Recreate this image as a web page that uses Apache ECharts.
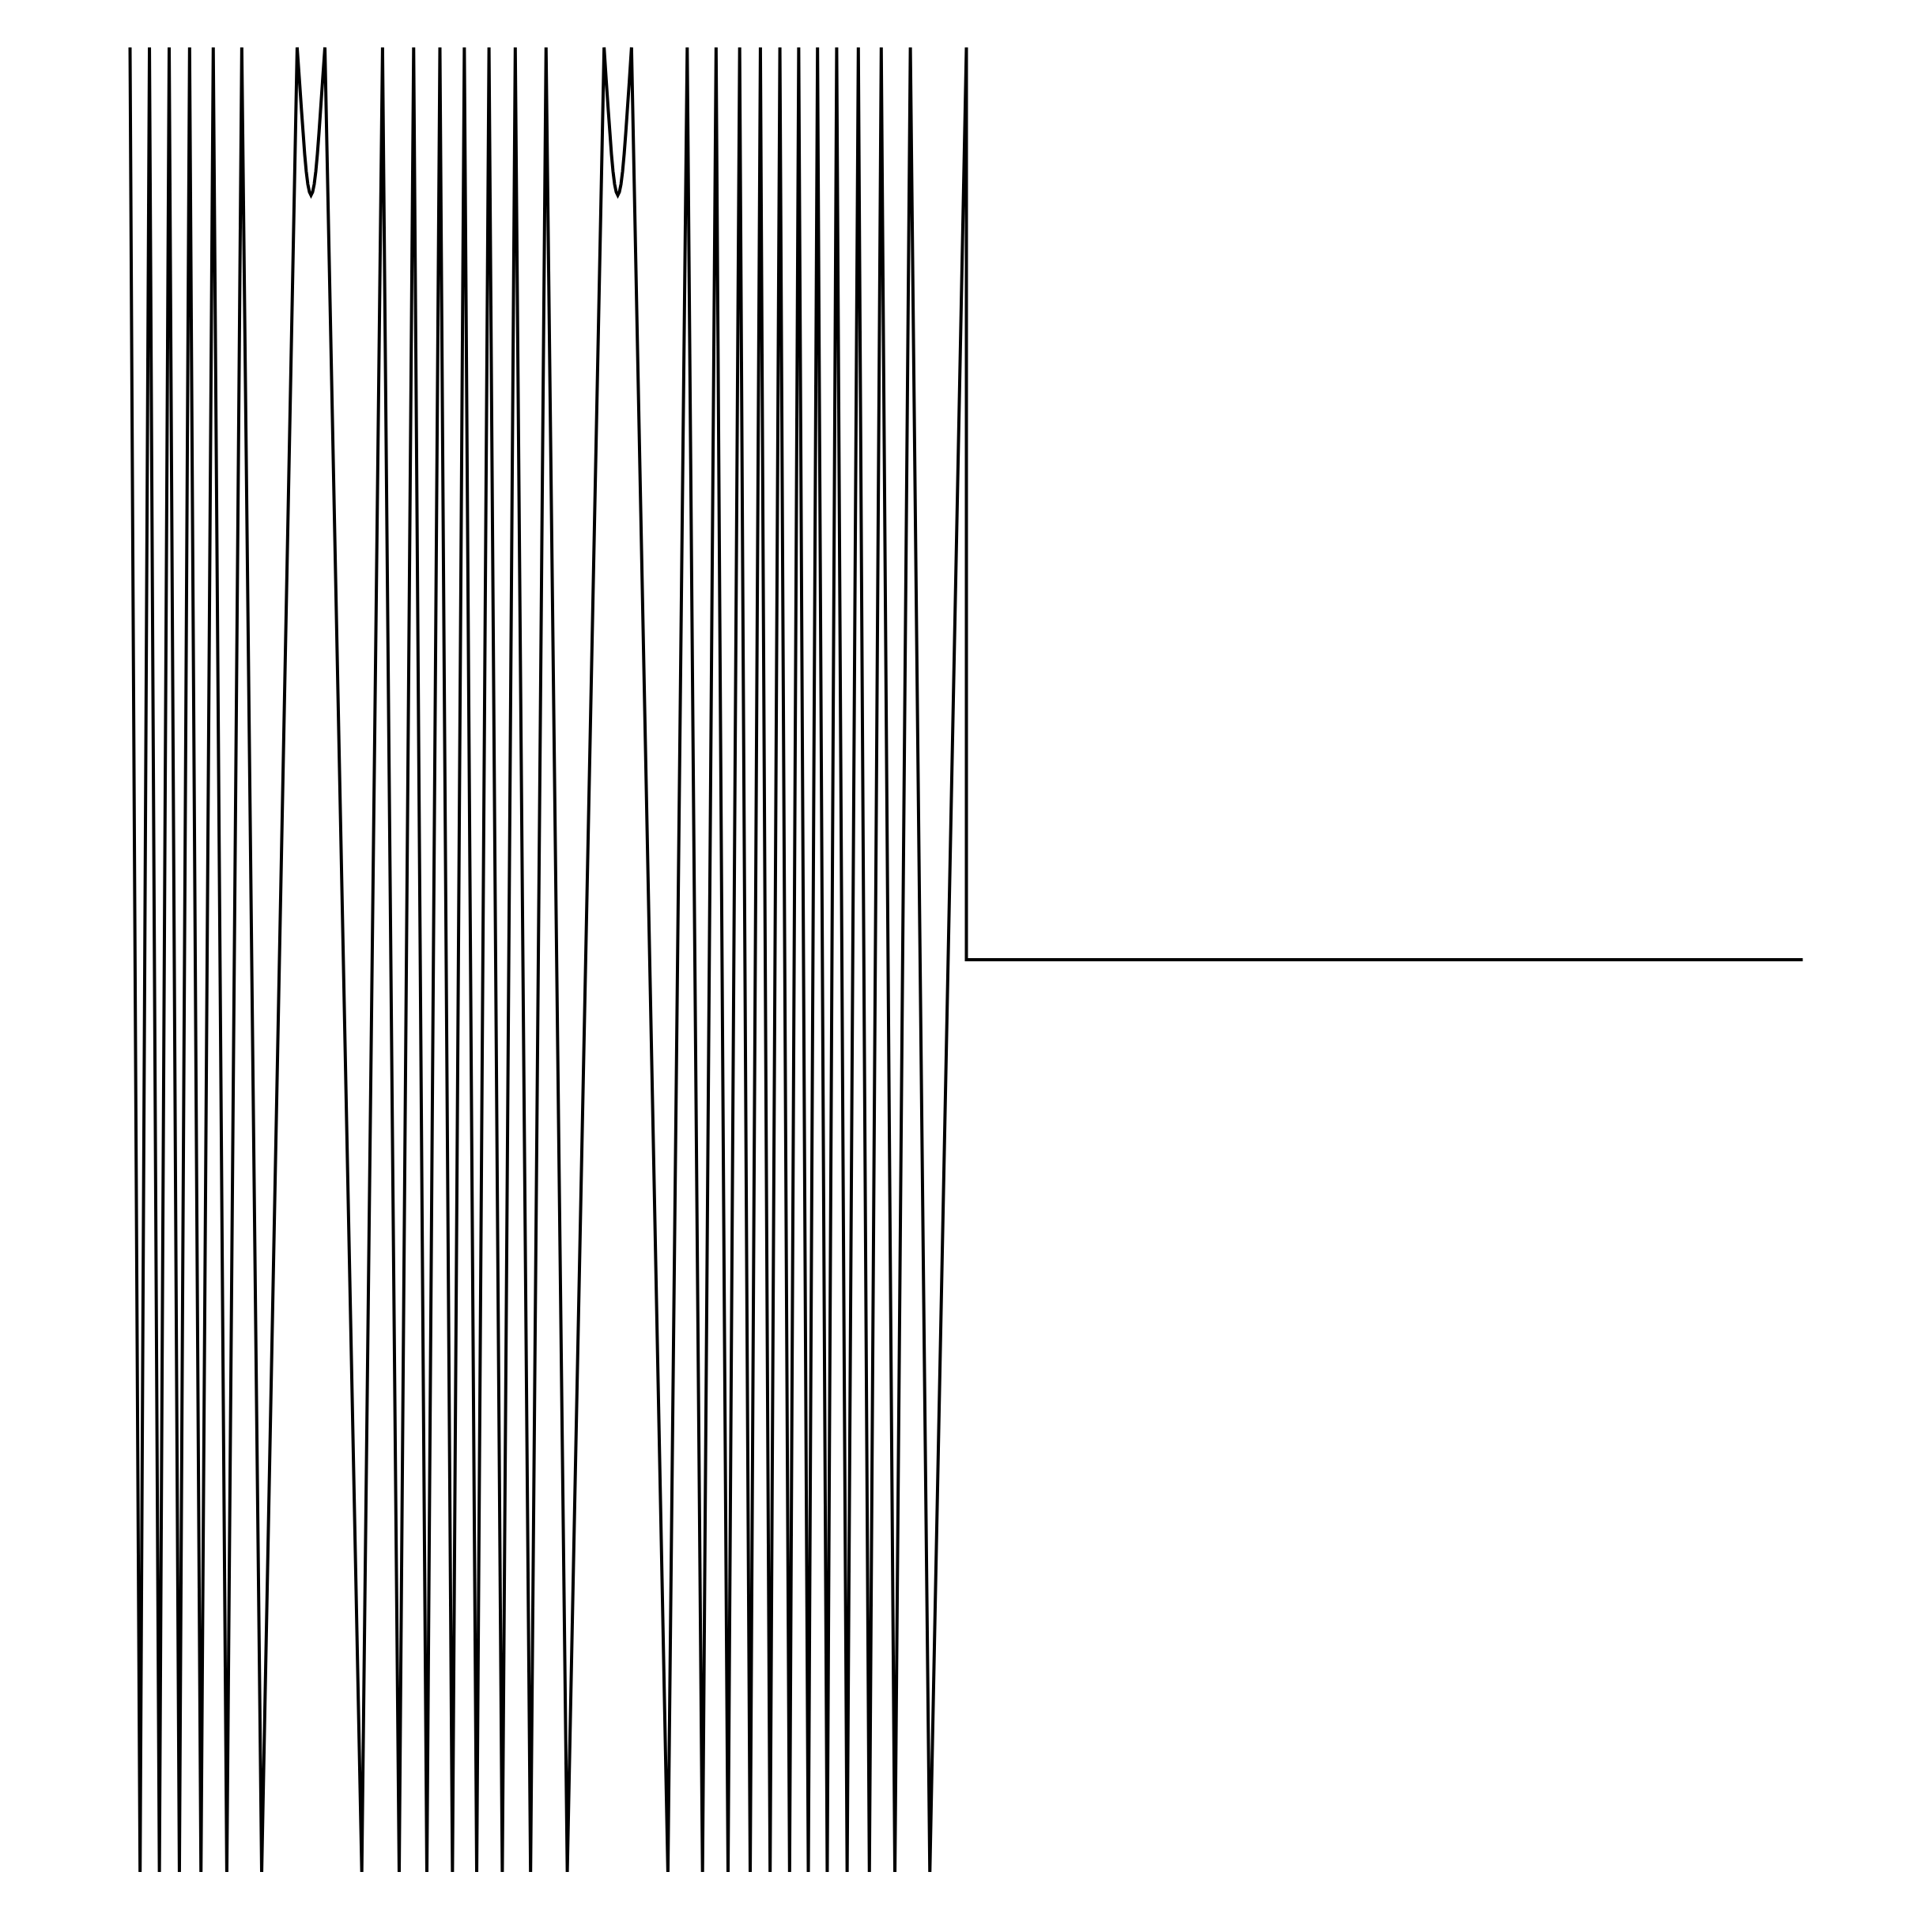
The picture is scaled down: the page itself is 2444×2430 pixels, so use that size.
<!DOCTYPE html>
<html>
<head>
<meta charset="utf-8">
<script src="https://cdn.jsdelivr.net/npm/echarts@6/dist/echarts.min.js"></script>
<style>
  html, body { margin: 0; padding: 0; background: #ffffff; }
  #chart { width: 2444px; height: 2430px; }
</style>
</head>
<body>
<div id="chart"></div>
<script>
// x positions of the line's vertices
const xValues = [
  0, 0.012, 0.0232, 0.0351, 0.0468, 0.059, 0.0712, 0.0848, 0.0995, 0.1157, 0.1336, 0.1574,
  0.1998, 0.2027, 0.2051, 0.2070, 0.2088, 0.2107, 0.2126, 0.2145, 0.2164, 0.2183, 0.2202, 0.2221, 0.2240, 0.2259, 0.2277, 0.2301, 0.2330,
  0.2771, 0.3019, 0.3218, 0.3391, 0.3549, 0.3705, 0.3855, 0.3997, 0.4145, 0.4292, 0.4451, 0.4606, 0.4789, 0.4974, 0.5228,
  0.5668, 0.5695, 0.5719, 0.5738, 0.5756, 0.5775, 0.5794, 0.5813, 0.5832, 0.5851, 0.5870, 0.5889, 0.5908, 0.5927, 0.5945, 0.5969, 0.5996,
  0.6431, 0.6662, 0.6845, 0.7007, 0.715, 0.7289, 0.7415, 0.7537, 0.7653, 0.777, 0.7886, 0.7995,
  0.811, 0.822, 0.8336, 0.8449, 0.8574, 0.8708, 0.884, 0.8982, 0.9145, 0.933, 0.9563, 1.0,
  1.0, 2.0
];
// y values of the vertices (±1 is the edge of the visible range)
const yValues = [
  1, -1, 1, -1, 1, -1, 1, -1, 1, -1, 1, -1,
  1, 0.962, 0.930, 0.906, 0.883, 0.864, 0.850, 0.8415, 0.838, 0.8415, 0.850, 0.864, 0.883, 0.906, 0.930, 0.962, 1,
  -1, 1, -1, 1, -1, 1, -1, 1, -1, 1, -1, 1, -1, 1, -1,
  1, 0.962, 0.930, 0.906, 0.883, 0.864, 0.850, 0.8415, 0.838, 0.8415, 0.850, 0.864, 0.883, 0.906, 0.930, 0.962, 1,
  -1, 1, -1, 1, -1, 1, -1, 1, -1, 1, -1, 1,
  -1, 1, -1, 1, -1, 1, -1, 1, -1, 1, -1, 1,
  0, 0
];
const xMin = 0, xMax = 2;
const yMin = -1, yMax = 1;

const seriesData = xValues.map((x, i) => [x, yValues[i]]);

const chart = echarts.init(document.getElementById('chart'), null, { renderer: 'canvas' });
chart.setOption({
  animation: false,
  backgroundColor: '#ffffff',
  grid: { left: 164.5, right: 163.5, top: 60, bottom: 62, containLabel: false },
  xAxis: {
    type: 'value', min: xMin, max: xMax,
    show: false,
    splitLine: { show: false }
  },
  yAxis: {
    type: 'value', min: yMin, max: yMax,
    show: false,
    splitLine: { show: false }
  },
  series: [{
    type: 'line',
    data: seriesData,
    symbol: 'none',
    clip: true,
    smooth: false,
    lineStyle: { color: '#000000', width: 4, join: 'miter' }
  }]
});
</script>
</body>
</html>
